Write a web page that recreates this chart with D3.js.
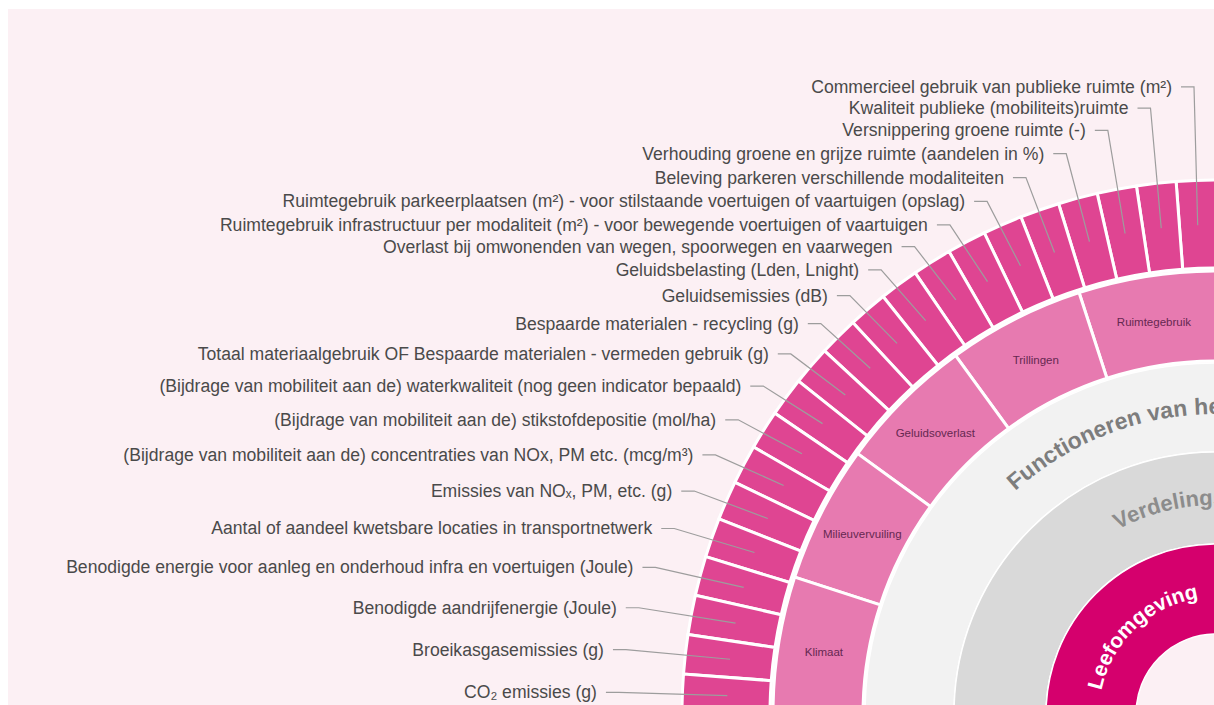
<!DOCTYPE html>
<html>
<head>
<meta charset="utf-8">
<script src="https://cdn.jsdelivr.net/npm/d3@7"></script>
<style>
  body { margin: 0; background: #fff; }
  svg { display: block; }
  text { font-family: "Liberation Sans", Arial, sans-serif; }
</style>
</head>
<body>
<script>
// indicators, outer ring, from the top going anti-clockwise
const indicators = [
  "Commercieel gebruik van publieke ruimte (m²)",
  "Kwaliteit publieke (mobiliteits)ruimte",
  "Versnippering groene ruimte (-)",
  "Verhouding groene en grijze ruimte (aandelen in %)",
  "Beleving parkeren verschillende modaliteiten",
  "Ruimtegebruik parkeerplaatsen (m²) - voor stilstaande voertuigen of vaartuigen (opslag)",
  "Ruimtegebruik infrastructuur per modaliteit (m²) - voor bewegende voertuigen of vaartuigen",
  "Overlast bij omwonenden van wegen, spoorwegen en vaarwegen",
  "Geluidsbelasting (Lden, Lnight)",
  "Geluidsemissies (dB)",
  "Bespaarde materialen - recycling (g)",
  "Totaal materiaalgebruik OF Bespaarde materialen - vermeden gebruik (g)",
  "(Bijdrage van mobiliteit aan de) waterkwaliteit (nog geen indicator bepaald)",
  "(Bijdrage van mobiliteit aan de) stikstofdepositie (mol/ha)",
  "(Bijdrage van mobiliteit aan de) concentraties van NOx, PM etc. (mcg/m³)",
  "Emissies van NOₓ, PM, etc. (g)",
  "Aantal of aandeel kwetsbare locaties in transportnetwerk",
  "Benodigde energie voor aanleg en onderhoud infra en voertuigen (Joule)",
  "Benodigde aandrijfenergie (Joule)",
  "Broeikasgasemissies (g)",
  "CO₂ emissies (g)"
];

// themes, middle ring
const themes = ["Ruimtegebruik", "Trillingen", "Geluidsoverlast", "Milieuvervuiling", "Klimaat"];

// inner rings (outside -> inside)
const innerRings = ["Functioneren van het", "Verdelingseffecten", "Leefomgeving"];

const width = 1214, height = 705;
const cx = 1216, cy = 714;

const svg = d3.select("body").append("svg")
  .attr("width", width)
  .attr("height", height);

svg.append("rect")
  .attr("x", 8).attr("y", 9)
  .attr("width", width - 8).attr("height", height - 9)
  .attr("fill", "#fcf0f4");

const g = svg.append("g")
  .attr("transform", "translate(" + cx + "," + cy + ")");

// angle scales: 0 = top, going left (negative)
var aInd = d3.scaleBand().domain(indicators).range([0, -Math.PI / 2]);
var aTheme = d3.scaleBand().domain(themes).range([0, -Math.PI / 2]);

var arc = d3.arc();

// inner rings drawn as full circles
var ringSpec = [
  {name: innerRings[0], r0: 262, r1: 351, fill: "#f2f2f2"},
  {name: innerRings[1], r0: 170, r1: 262, fill: "#d9d9d9"},
  {name: innerRings[2], r0: 80, r1: 170, fill: "#d5006d"}
];
g.selectAll("path.ring").data(ringSpec).enter().append("path")
  .attr("class", "ring")
  .attr("d", function(d) {
    return arc({innerRadius: d.r0, outerRadius: d.r1, startAngle: 0, endAngle: 2 * Math.PI});
  })
  .attr("fill", function(d) { return d.fill; })
  .attr("stroke", "#fff")
  .attr("stroke-width", 1.5);

// themes ring
g.selectAll("path.theme").data(themes).enter().append("path")
  .attr("class", "theme")
  .attr("d", function(d) {
    return arc({innerRadius: 353, outerRadius: 443,
      startAngle: aTheme(d), endAngle: aTheme(d) + aTheme.bandwidth()});
  })
  .attr("fill", "#e77ab0")
  .attr("stroke", "#fff")
  .attr("stroke-width", 3);

g.selectAll("text.theme").data(themes).enter().append("text")
  .attr("class", "theme")
  .attr("x", function(d) { var a = aTheme(d) + aTheme.bandwidth() / 2; return 397 * Math.sin(a); })
  .attr("y", function(d) { var a = aTheme(d) + aTheme.bandwidth() / 2; return -397 * Math.cos(a) + 4; })
  .attr("text-anchor", "middle")
  .attr("font-size", "11.5px")
  .attr("fill", "#652850")
  .text(function(d) { return d; });

// indicators ring
g.selectAll("path.ind").data(indicators).enter().append("path")
  .attr("class", "ind")
  .attr("d", function(d) {
    return arc({innerRadius: 446, outerRadius: 534,
      startAngle: aInd(d), endAngle: aInd(d) + aInd.bandwidth()});
  })
  .attr("fill", "#df4592")
  .attr("stroke", "#fff")
  .attr("stroke-width", 3);

// label layout: labels sit on a curve around the ring, spread more at the top
function labelPoint(d) {
  var t = -(aInd(d) + aInd.bandwidth() / 2);          // radians from top, going left
  var c2 = Math.cos(2 * t);
  var dx = 590 * Math.sin(t) + 22 * Math.max(0, c2) + 30 * Math.pow(Math.max(0, -c2), 6);
  var tdeg = t * 180 / Math.PI;
  var R = 552 + 85 * Math.pow(Math.max(0, (30 - tdeg) / 30), 1.6)
              + 26 * Math.pow(Math.max(0, -c2), 4);
  var dy = R * Math.cos(t);
  return {x: -dx, y: -dy, t: t};
}

var labels = g.selectAll("g.lbl").data(indicators).enter().append("g").attr("class", "lbl");

labels.append("path")
  .attr("d", function(d) {
    var p = labelPoint(d);
    var ex = -489 * Math.sin(p.t), ey = -489 * Math.cos(p.t);
    return "M" + (p.x + 9) + "," + p.y + "H" + (p.x + 22) + "L" + ex + "," + ey;
  })
  .attr("fill", "none")
  .attr("stroke", "#9d9d9d")
  .attr("stroke-width", 1.2);

labels.append("text")
  .attr("x", function(d) { return labelPoint(d).x; })
  .attr("y", function(d) { return labelPoint(d).y + 6; })
  .attr("text-anchor", "end")
  .attr("font-size", "17.6px")
  .attr("fill", "#4a4a4a")
  .text(function(d) { return d; });

// curved labels for the inner rings
var deg = Math.PI / 180;
var curved = [
  {name: innerRings[0], r: 300, a0: -42, a1: 60, anchor: "start", offset: "0%", size: 23, fill: "#7d7d7d"},
  {name: innerRings[1], r: 209, a0: -28, a1: 80, anchor: "start", offset: "0%", size: 22, fill: "#8c8c8c"},
  {name: innerRings[2], r: 117, a0: -88, a1: 1, anchor: "middle", offset: "50%", size: 21, fill: "#ffffff"}
];
var defs = svg.append("defs");
curved.forEach(function(c, i) {
  var x0 = c.r * Math.sin(c.a0 * deg), y0 = -c.r * Math.cos(c.a0 * deg);
  var x1 = c.r * Math.sin(c.a1 * deg), y1 = -c.r * Math.cos(c.a1 * deg);
  defs.append("path")
    .attr("id", "cp" + i)
    .attr("d", "M" + x0 + "," + y0 + "A" + c.r + "," + c.r + " 0 0,1 " + x1 + "," + y1);
  g.append("text")
    .attr("font-size", c.size + "px")
    .attr("font-weight", "bold")
    .attr("fill", c.fill)
    .append("textPath")
    .attr("href", "#cp" + i)
    .attr("startOffset", c.offset)
    .attr("text-anchor", c.anchor)
    .text(c.name);
});
</script>
</body>
</html>
